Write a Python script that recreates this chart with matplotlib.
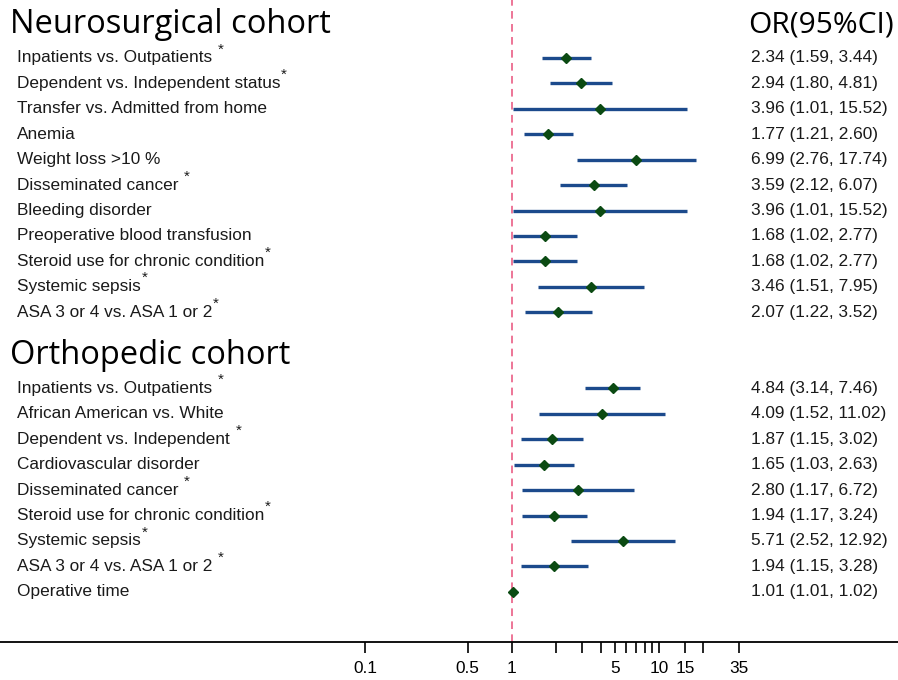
import numpy as np
import matplotlib
matplotlib.use("Agg")
import matplotlib.pyplot as plt
from matplotlib.transforms import blended_transform_factory

# neurosurgical cohort
neuro_labels = ["Inpatients vs. Outpatients", "Dependent vs. Independent status",
                "Transfer vs. Admitted from home", "Anemia", "Weight loss >10 %",
                "Disseminated cancer", "Bleeding disorder", "Preoperative blood transfusion",
                "Steroid use for chronic condition", "Systemic sepsis", "ASA 3 or 4 vs. ASA 1 or 2"]
neuro_star = [" *", "*", "", "", "", " *", "", "", "*", "*", "*"]
neuro_or = [2.34, 2.94, 3.96, 1.77, 6.99, 3.59, 3.96, 1.68, 1.68, 3.46, 2.07]
neuro_lo = [1.59, 1.80, 1.01, 1.21, 2.76, 2.12, 1.01, 1.02, 1.02, 1.51, 1.22]
neuro_hi = [3.44, 4.81, 15.52, 2.60, 17.74, 6.07, 15.52, 2.77, 2.77, 7.95, 3.52]

# orthopedic cohort
ortho_labels = ["Inpatients vs. Outpatients", "African American vs. White",
                "Dependent vs. Independent", "Cardiovascular disorder", "Disseminated cancer",
                "Steroid use for chronic condition", "Systemic sepsis",
                "ASA 3 or 4 vs. ASA 1 or 2", "Operative time"]
ortho_star = [" *", "", " *", "", " *", "*", "*", " *", ""]
ortho_or = [4.84, 4.09, 1.87, 1.65, 2.80, 1.94, 5.71, 1.94, 1.01]
ortho_lo = [3.14, 1.52, 1.15, 1.03, 1.17, 1.17, 2.52, 1.15, 1.01]
ortho_hi = [7.46, 11.02, 3.02, 2.63, 6.72, 3.24, 12.92, 3.28, 1.02]

tick_vals = [0.1, 0.5, 1, 2, 3, 4, 5, 6, 7, 8, 9, 10, 15, 20, 35]
tick_text = ["0.1", "0.5", "1", "", "", "", "5", "", "", "", "", "10", "15", "", "35"]

W, H = 898, 680
fig = plt.figure(figsize=(W / 100, H / 100), dpi=100)
ax = fig.add_axes([0, 38 / H, 1, 642 / H])

ax.set_xscale("log")
ax.set_xlim(10 ** (-512 / 147), 10 ** ((W - 512) / 147))
ax.set_ylim(584 / 25.42, -58 / 25.42)

labels = neuro_labels + ortho_labels
stars = neuro_star + ortho_star
ors = neuro_or + ortho_or
los = neuro_lo + ortho_lo
his = neuro_hi + ortho_hi
rows = list(range(len(neuro_labels))) + [13 + i for i in range(len(ortho_labels))]

ax.axvline(1, color="#e8507a", lw=1.1, ls=(0, (5, 3.5)), zorder=1)
ax.hlines(rows, los, his, color="#1c4a8c", lw=2.4, zorder=2)
ax.plot(ors, rows, "D", color="#0b4a12", ms=5.5, ls="none", zorder=3)

lab_font = dict(family="Liberation Sans", fontsize=12.4, color="#1a1a1a")
star_font = dict(family="Liberation Sans", fontsize=11, color="#1a1a1a")
blend = blended_transform_factory(ax.transAxes, ax.transData)
tx = lambda px: px / W

for r, lab, st, o, lo, hi in zip(rows, labels, stars, ors, los, his):
    t = ax.text(tx(17), r, lab, transform=blend, va="center", ha="left", **lab_font)
    if st:
        gap = 4 if st.startswith(" ") else 0.5
        ax.annotate("*", xy=(1, 0.6), xycoords=t, xytext=(gap, 0), textcoords="offset points",
                    va="bottom", ha="left", **star_font)
    ax.text(tx(751), r, f"{o:.2f} ({lo:.2f}, {hi:.2f})", va="center", ha="left",
            transform=blend, **lab_font)

ax.text(tx(10), -1.3, "Neurosurgical cohort", va="center", ha="left", transform=blend,
        family="Open Sans", fontsize=23.5, color="black")
ax.text(tx(10), 11.7, "Orthopedic cohort", va="center", ha="left", transform=blend,
        family="Open Sans", fontsize=23.5, color="black")
ax.text(tx(748), -1.3, "OR(95%CI)", va="center", ha="left", transform=blend,
        family="Open Sans", fontsize=21.5, color="black")

for s in ["top", "left", "right"]:
    ax.spines[s].set_visible(False)
ax.spines["bottom"].set_linewidth(1.3)
ax.set_yticks([])
ax.set_xticks(tick_vals)
ax.set_xticklabels(tick_text, family="Liberation Sans", fontsize=12.4)
ax.xaxis.set_minor_locator(matplotlib.ticker.NullLocator())
ax.tick_params(axis="x", length=8, width=1.2, pad=6)

fig.savefig("out.png", dpi=100)
